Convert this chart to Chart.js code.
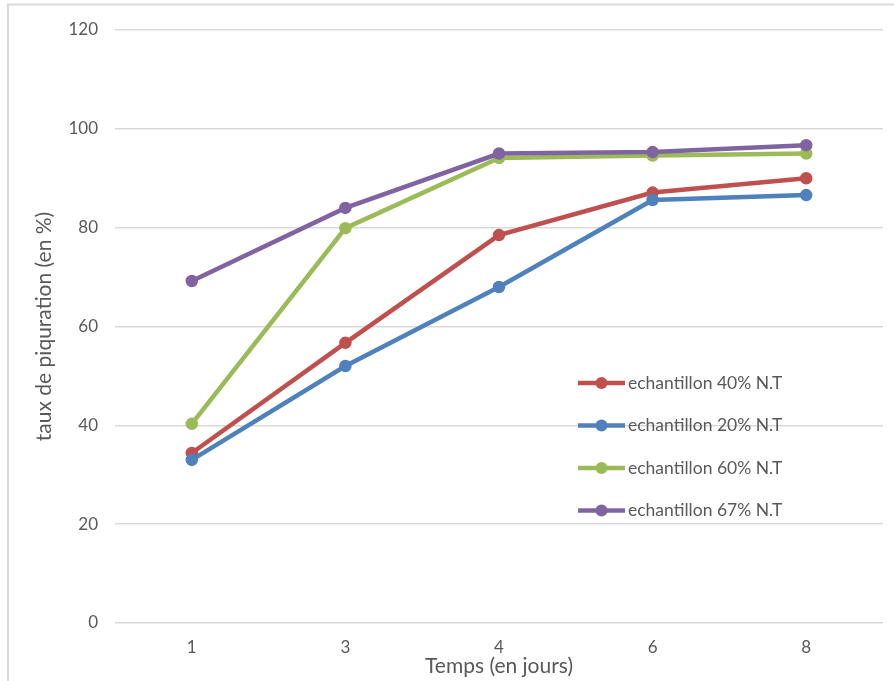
<!DOCTYPE html>
<html>
<head>
<meta charset="utf-8">
<script src="https://cdn.jsdelivr.net/npm/chart.js@4/dist/chart.umd.min.js"></script>
<style>
  html, body { margin: 0; padding: 0; background: #ffffff; }
  #wrap { width: 894px; height: 681px; position: relative; }
</style>
</head>
<body>
<div id="wrap"><canvas id="c" width="894" height="681"></canvas></div>
<script>
// Sampling days and measured pitting rates (%)
const jours = ['1', '3', '4', '6', '8'];
const ech40 = [34.4, 56.7, 78.5, 87.1, 90.0];
const ech20 = [33.0, 52.0, 68.0, 85.6, 86.6];
const ech60 = [40.3, 79.9, 94.1, 94.6, 95.0];
const ech67 = [69.2, 84.0, 95.0, 95.3, 96.7];

const seriesNames = ['echantillon 40% N.T', 'echantillon 20% N.T', 'echantillon 60% N.T', 'echantillon 67% N.T'];
const seriesColors = ['#C0504D', '#4F81BD', '#9BBB59', '#8064A2'];

const FONT = 'Lato, "Open Sans", "DejaVu Sans", sans-serif';
const TEXT = '#595959';

function ds(label, data, color, order) {
  return {
    label, data, order,
    borderColor: color, backgroundColor: color,
    borderWidth: 4.5, pointRadius: 5.5, pointBorderWidth: 1.5,
    pointBackgroundColor: color, pointBorderColor: color,
    tension: 0, fill: false
  };
}

// Outer frame of the figure
const framePlugin = {
  id: 'frame',
  beforeDraw(chart) {
    const ctx = chart.ctx;
    ctx.save();
    ctx.fillStyle = '#ffffff';
    ctx.fillRect(0, 0, chart.width, chart.height);
    ctx.strokeStyle = '#d9d9d9';
    ctx.lineWidth = 2;
    ctx.beginPath();
    ctx.moveTo(8, chart.height);
    ctx.lineTo(8, 4.5);
    ctx.lineTo(chart.width, 4.5);
    ctx.stroke();
    ctx.restore();
  }
};

// Legend drawn inside the plot area, right side
const innerLegend = {
  id: 'innerLegend',
  afterDatasetsDraw(chart) {
    const ctx = chart.ctx;
    const x0 = 578, x1 = 625, y0 = 383, step = 42.5;
    ctx.save();
    chart.data.datasets.forEach((d, i) => {
      const y = y0 + i * step;
      ctx.strokeStyle = d.borderColor;
      ctx.lineWidth = 4.5;
      ctx.lineCap = 'butt';
      ctx.beginPath();
      ctx.moveTo(x0, y);
      ctx.lineTo(x1, y);
      ctx.stroke();
      ctx.fillStyle = d.borderColor;
      ctx.beginPath();
      ctx.arc((x0 + x1) / 2, y, 6, 0, Math.PI * 2);
      ctx.fill();
      ctx.fillStyle = TEXT;
      ctx.font = '17.5px ' + FONT;
      ctx.textAlign = 'left';
      ctx.textBaseline = 'middle';
      ctx.fillText(d.label, x1 + 3, y);
    });
    ctx.restore();
  }
};

new Chart(document.getElementById('c'), {
  type: 'line',
  data: {
    labels: jours,
    datasets: [
      ds(seriesNames[0], ech40, seriesColors[0], 3),
      ds(seriesNames[1], ech20, seriesColors[1], 2),
      ds(seriesNames[2], ech60, seriesColors[2], 1),
      ds(seriesNames[3], ech67, seriesColors[3], 0)
    ]
  },
  options: {
    responsive: false,
    animation: false,
    devicePixelRatio: 1,
    layout: { padding: { top: 30, right: 11, left: 0, bottom: 0 } },
    plugins: {
      legend: { display: false },
      tooltip: { enabled: false }
    },
    scales: {
      x: {
        offset: true,
        grid: { display: false, drawTicks: false },
        border: { display: false },
        ticks: { color: TEXT, font: { family: FONT, size: 17 }, padding: 14, maxRotation: 0 },
        title: {
          display: true, text: 'Temps (en jours)', color: TEXT,
          font: { family: FONT, size: 21 }, padding: { top: 0, bottom: 2 }
        },
        afterFit(s) { s.height = 58; }
      },
      y: {
        min: 0, max: 120,
        ticks: { stepSize: 20, color: TEXT, font: { family: FONT, size: 17 }, padding: 17 },
        grid: { color: '#d9d9d9', lineWidth: 1.5, drawTicks: false },
        border: { display: false },
        title: {
          display: true, text: 'taux de piquration (en %)', color: TEXT,
          font: { family: FONT, size: 21 }, padding: { top: 32, bottom: 0 }
        },
        afterFit(s) { s.width = 115; }
      }
    }
  },
  plugins: [framePlugin, innerLegend]
});
</script>
</body>
</html>
